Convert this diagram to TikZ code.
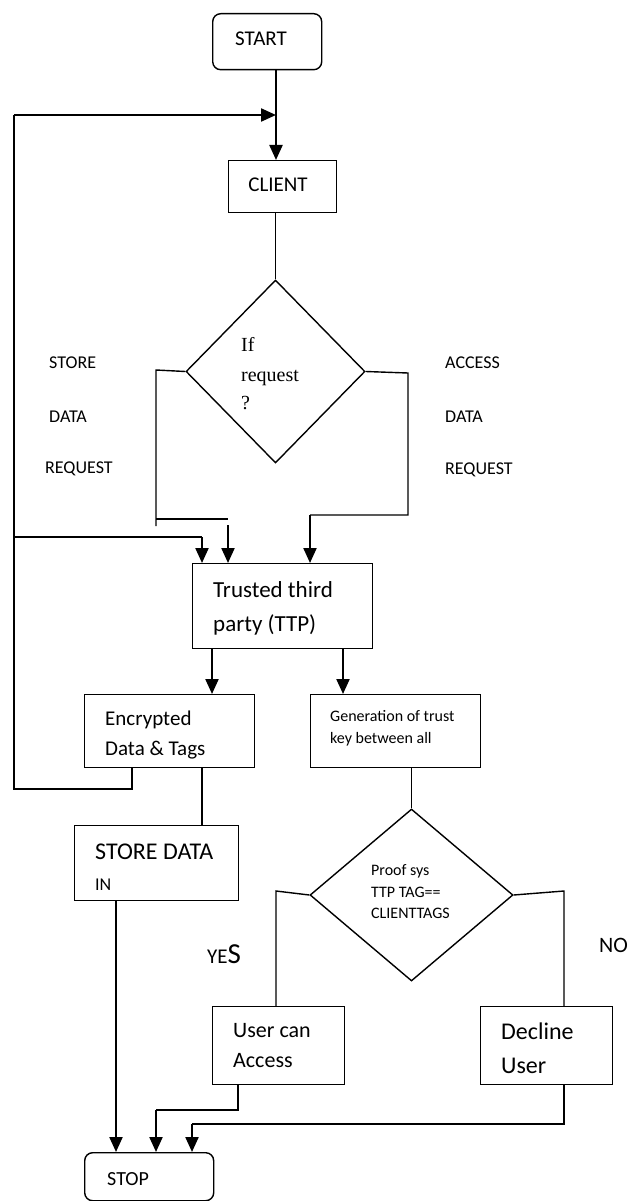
\documentclass[tikz,border=0pt]{standalone}
\usepackage{fontspec}
\setmainfont{Carlito}
\newfontfamily\seriffont{Liberation Serif}
\usetikzlibrary{arrows.meta,shapes.geometric}
\tikzset{
  box/.style={draw, line width=1.4pt, inner sep=0pt, anchor=north west},
  rbox/.style={box, rounded corners=8pt},
  dia/.style={draw, diamond, line width=1.4pt, inner sep=0pt},
  thinl/.style={line width=1.4pt},
  arr/.style={line width=2.2pt, -{Triangle[length=15pt,width=13pt]}},
  thkl/.style={line width=2pt},
  txt/.style={anchor=base west, inner sep=0pt},
  fs/.style={font=\fontsize{#1}{#1}\selectfont},
}
\begin{document}
\begin{tikzpicture}[x=1pt,y=-1pt]
\useasboundingbox (0,0) rectangle (628,1201);
% boxes
\node[rbox, minimum width=109pt, minimum height=56pt] (start) at (212,13) {};
\node[box, minimum width=108pt, minimum height=52pt] (client) at (228,160) {};
\node[dia, minimum width=179pt, minimum height=183pt] (d1) at (275.5,371.5) {};
\node[box, minimum width=180pt, minimum height=85pt] (ttp) at (192,563) {};
\node[box, minimum width=170pt, minimum height=73pt] (enc) at (84,694) {};
\node[box, minimum width=170pt, minimum height=73pt] (gen) at (310,694) {};
\node[box, minimum width=164pt, minimum height=75pt] (sd) at (74,825) {};
\node[dia, minimum width=203pt, minimum height=172pt] (d2) at (411.5,895) {};
\node[box, minimum width=132pt, minimum height=78pt] (user) at (212,1006) {};
\node[box, minimum width=132pt, minimum height=78pt] (dec) at (480,1006) {};
\node[rbox, minimum width=129pt, minimum height=48pt] (stop) at (84,1152) {};
% texts
\node[anchor=base, inner sep=0pt, fs=21] (tstart) at (261,46) {START};
\node[anchor=base, inner sep=0pt, fs=21] (tclient) at (278,191) {CLIENT};
\node[txt, font=\seriffont\fontsize{20}{20}\selectfont] (tif1) at (241,351) {If};
\node[txt, font=\seriffont\fontsize{20}{20}\selectfont] (tif2) at (241,381) {request};
\node[txt, font=\seriffont\fontsize{20}{20}\selectfont] (tif3) at (241,409) {?};
\node[txt, fs=18] (ls1) at (49,368) {STORE};
\node[txt, fs=18] (ls2) at (49,422) {DATA};
\node[txt, fs=18] (ls3) at (45,473) {REQUEST};
\node[txt, fs=18] (la1) at (445,368) {ACCESS};
\node[txt, fs=18] (la2) at (445,422) {DATA};
\node[txt, fs=18] (la3) at (445,474) {REQUEST};
\node[txt, fs=23] (tt1) at (213,597) {Trusted third};
\node[txt, fs=23] (tt2) at (213,631) {party (TTP)};
\node[txt, fs=21] (te1) at (105,725) {Encrypted};
\node[txt, fs=21] (te2) at (105,755) {Data \& Tags};
\node[txt, fs=16] (tg1) at (330,721) {Generation of trust};
\node[txt, fs=16] (tg2) at (330,743) {key between all};
\node[txt, fs=24] (ts1) at (95,859) {STORE DATA};
\node[txt, fs=18] (ts2) at (95,890) {IN};
\node[txt, fs=16] (tp1) at (371,875) {Proof sys};
\node[txt, fs=16] (tp2) at (371,897) {TTP TAG==};
\node[txt, fs=16] (tp3) at (371,918) {CLIENTTAGS};
\node[txt] (tyes) at (207,963) {\fontsize{21}{21}\selectfont YE\fontsize{29}{29}\selectfont S};
\node[txt, fs=22] (tno) at (599,952) {NO};
\node[txt, fs=22] (tu1) at (233,1037) {User can};
\node[txt, fs=22] (tu2) at (233,1067) {Access};
\node[txt, fs=24] (td1) at (501,1039) {Decline};
\node[txt, fs=24] (td2) at (501,1073) {User};
\node[txt, fs=20] (tstop) at (107,1185) {STOP};
% helper coordinates
\coordinate (j1) at (276,115);
\coordinate (xloop) at (132,0);
\coordinate (xa) at (202,0);
\coordinate (xb) at (228,0);
\coordinate (xc) at (310,0);
\coordinate (xe) at (212,0);
\coordinate (xg) at (343,0);
\coordinate (xsd) at (116,0);
\coordinate (xu) at (238,0);
\coordinate (xy) at (276,0);
\coordinate (xs2) at (156,0);
\coordinate (xd) at (564,0);
\coordinate (xs3) at (192,0);
% connectors
\draw[arr] (start.south -| j1) -- (client.north -| j1);
\draw[thkl] (enc.south -| xloop) -- (132,789) -- (14,789) -- (14,115);
\draw[arr] (14,115) -- (j1);
\draw[thinl] (14,537) -- (202,537);
\draw[arr] (202,537) -- (ttp.north -| xa);
\draw[thinl] (client.south -| d1.north) -- (d1.north);
\draw[thinl] (d1.west) -- (156,370) -- (156,526);
\draw[thinl] (156,519) -- (228,519);
\draw[arr] (228,525) -- (ttp.north -| xb);
\draw[thinl] (d1.east) -- (408,373) -- (408,515) -- (310,515);
\draw[arr] (310,515) -- (ttp.north -| xc);
\draw[arr] (ttp.south -| xe) -- (enc.north -| xe);
\draw[arr] (ttp.south -| xg) -- (gen.north -| xg);
\draw[thinl] (enc.south -| xa) -- (sd.north -| xa);
\draw[thinl] (gen.south -| d2.north) -- (d2.north);
\draw[thinl] (d2.west) -- (276,891) -- (user.north -| xy);
\draw[thinl] (d2.east) -- (564,891) -- (dec.north -| xd);
\draw[arr] (sd.south -| xsd) -- (stop.north -| xsd);
\draw[thinl] (user.south -| xu) -- (238,1110) -- (156,1110);
\draw[arr] (156,1110) -- (stop.north -| xs2);
\draw[thinl] (dec.south -| xd) -- (564,1124) -- (192,1124);
\draw[arr] (192,1124) -- (stop.north -| xs3);
\end{tikzpicture}
\end{document}
